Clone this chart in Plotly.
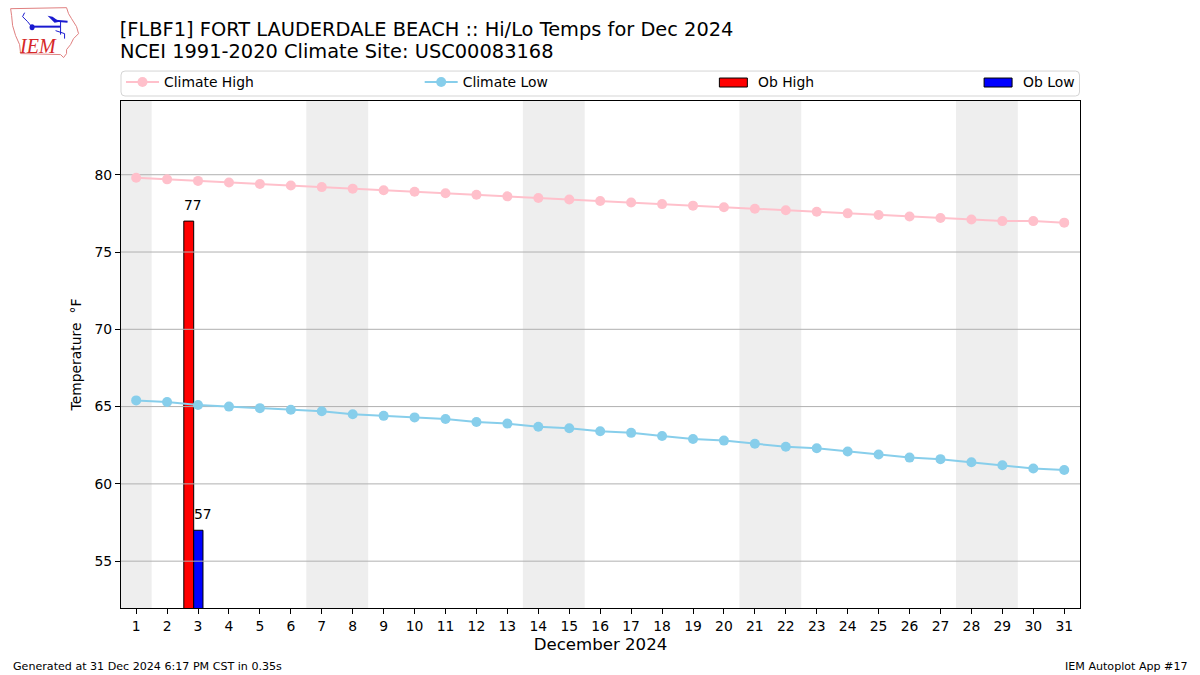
import plotly.graph_objects as go

days = list(range(1, 32))
climate_high = [79.8,79.7,79.6,79.5,79.4,79.3,79.2,79.1,79.0,78.9,78.8,78.7,78.6,78.5,78.4,78.3,78.2,78.1,78.0,77.9,77.8,77.7,77.6,77.5,77.4,77.3,77.2,77.1,77.0,77.0,76.9]
climate_low = [65.4,65.3,65.1,65.0,64.9,64.8,64.7,64.5,64.4,64.3,64.2,64.0,63.9,63.7,63.6,63.4,63.3,63.1,62.9,62.8,62.6,62.4,62.3,62.1,61.9,61.7,61.6,61.4,61.2,61.0,60.9]
ob_days = [3]
ob_high = [77]
ob_low = [57]
y_ticks = [55, 60, 65, 70, 75, 80]
weekend_bands = [(0.5, 1.5), (6.5, 8.5), (13.5, 15.5), (20.5, 22.5), (27.5, 29.5)]
title_line1 = "[FLBF1] FORT LAUDERDALE BEACH :: Hi/Lo Temps for Dec 2024"
title_line2 = "NCEI 1991-2020 Climate Site: USC00083168"

W, H = 1200, 675
FONT = "DejaVu Sans"
L, R, T, B = 120.5, 1080.5, 100.5, 608.5
X_RANGE = [0.51, 31.51]
Y_RANGE = [51.97, 84.77]

def px(x):
    return (x - L) / (R - L)

def py(y):
    return (B - y) / (B - T)

def ppath(points, close=False):
    s = "M" + " L".join(f"{px(x):.5f},{py(y):.5f}" for x, y in points)
    return s + (" Z" if close else "")

def note(x, y, text, anchor="left", size=13.9, family=FONT, color="black", **kw):
    return dict(x=px(x), y=py(y), xref="paper", yref="paper", text=text, showarrow=False, xanchor=anchor,
                yanchor="middle", font=dict(family=family, size=size, color=color, **kw))

fig = go.Figure()

fig.add_trace(go.Bar(x=ob_days, y=ob_high, offset=-0.46, width=0.32, showlegend=False,
                     marker=dict(color="red", line=dict(color="black", width=1)),
                     textposition="none", name="Ob High"))
fig.add_trace(go.Bar(x=ob_days, y=ob_low, offset=-0.14, width=0.3, showlegend=False,
                     marker=dict(color="blue", line=dict(color="black", width=1)),
                     textposition="none", name="Ob Low"))

# Grid lines sit over the bars but under the climate lines
for v in y_ticks:
    fig.add_trace(go.Scatter(x=X_RANGE, y=[v, v], mode="lines", hoverinfo="skip", showlegend=False,
                             line=dict(color="#b0b0b0", width=1)))

fig.add_trace(go.Scatter(x=days, y=climate_high, mode="lines+markers", name="Climate High", legend="legend",
                         line=dict(color="pink", width=2), marker=dict(color="pink", size=10)))
fig.add_trace(go.Scatter(x=days, y=climate_low, mode="lines+markers", name="Climate Low", legend="legend2",
                         line=dict(color="skyblue", width=2), marker=dict(color="skyblue", size=10)))

shapes = []
for a, b in weekend_bands:
    shapes.append(dict(type="rect", xref="x", yref="paper", x0=a, x1=b, y0=0, y1=1, layer="below",
                       fillcolor="#eeeeee", line=dict(width=0)))

# Legend frame and bar swatches
r = 4
lx0, lx1, ly0, ly1 = 120.5, 1080, 70.5, 95.5
shapes.append(dict(type="path", xref="paper", yref="paper",
                   path=(f"M{px(lx0+r):.5f},{py(ly0):.5f} L{px(lx1-r):.5f},{py(ly0):.5f} "
                         f"Q{px(lx1):.5f},{py(ly0):.5f} {px(lx1):.5f},{py(ly0+r):.5f} "
                         f"L{px(lx1):.5f},{py(ly1-r):.5f} Q{px(lx1):.5f},{py(ly1):.5f} {px(lx1-r):.5f},{py(ly1):.5f} "
                         f"L{px(lx0+r):.5f},{py(ly1):.5f} Q{px(lx0):.5f},{py(ly1):.5f} {px(lx0):.5f},{py(ly1-r):.5f} "
                         f"L{px(lx0):.5f},{py(ly0+r):.5f} Q{px(lx0):.5f},{py(ly0):.5f} {px(lx0+r):.5f},{py(ly0):.5f} Z"),
                   line=dict(color="#d5d5d5", width=1), fillcolor="white", layer="below"))
for x0, col in ((719.5, "red"), (984.5, "blue")):
    shapes.append(dict(type="rect", xref="paper", yref="paper", x0=px(x0), x1=px(x0 + 28), y0=py(86.5), y1=py(77.5),
                       fillcolor=col, line=dict(color="black", width=1)))

# IEM logo
shapes.append(dict(type="path", xref="paper", yref="paper", line=dict(color="#e08080", width=1), path=ppath([
    (10, 8), (66, 7), (68, 13), (71, 18), (76, 26), (78, 33), (73, 38), (70, 44), (66, 49), (66, 53), (63, 57),
    (60, 54), (20, 53), (19, 44), (15, 35), (12, 25), (11, 15)], True)))
for pts, w in (([(32, 26), (60, 26)], 2), ([(24, 12), (22, 16), (27, 21), (31, 26)], 1),
               ([(55, 20), (67, 21)], 2), ([(60, 21), (60, 34)], 1), ([(55, 30), (64, 33), (64, 38)], 1)):
    shapes.append(dict(type="path", xref="paper", yref="paper", line=dict(color="#1a1ad0", width=w), path=ppath(pts)))
shapes.append(dict(type="path", xref="paper", yref="paper", line=dict(width=0), fillcolor="#1a1ad0",
                   path=ppath([(47, 15), (52, 16), (59, 21), (54, 22)], True)))
shapes.append(dict(type="circle", xref="paper", yref="paper", x0=px(29), x1=px(34), y0=py(29.5), y1=py(23.5),
                   fillcolor="#1a1ad0", line=dict(width=0)))

annotations = [
    dict(x=3, y=77, xref="x", yref="y", text="77", showarrow=False, yanchor="bottom", yshift=6, xshift=-5,
         font=dict(family=FONT, size=13.9, color="black")),
    dict(x=3, y=57, xref="x", yref="y", text="57", showarrow=False, yanchor="bottom", yshift=6, xshift=5,
         font=dict(family=FONT, size=13.9, color="black")),
    note(756.5, 81.5, "Ob High"),
    note(1021.5, 81.5, "Ob Low"),
    note(117.5, 50.5, title_line2, size=19.4),
    note(10, 667, "Generated at 31 Dec 2024 6:17 PM CST in 0.35s", size=11.1),
    note(1190.5, 667, "IEM Autoplot App #17", anchor="right", size=11.1),
    note(37, 45, "IEM", anchor="center", size=20, family="Liberation Serif", color="#d62728", style="italic"),
]

def leg(x):
    return dict(x=px(x), y=py(82), xref="paper", yref="paper", xanchor="left", yanchor="middle",
                bgcolor="rgba(0,0,0,0)", borderwidth=0, itemwidth=33,
                font=dict(family=FONT, size=13.9, color="black"))

fig.update_layout(
    width=W, height=H, autosize=False, paper_bgcolor="white", plot_bgcolor="white",
    margin=dict(l=L, r=W - R, t=T, b=H - B, pad=0),
    barmode="overlay", hovermode=False,
    font=dict(family=FONT, size=13.9, color="black"),
    title=dict(text=title_line1, x=119.7 / W, xref="container", xanchor="left", y=1 - 29 / H, yanchor="middle",
               pad=dict(l=0, r=0, t=0, b=0), font=dict(family=FONT, size=19.4, color="black")),
    xaxis=dict(range=X_RANGE, tickmode="array", tickvals=days, ticktext=[str(d) for d in days],
               ticks="outside", ticklen=5, tickwidth=1, tickcolor="black", showgrid=False, zeroline=False,
               showline=True, mirror=True, linecolor="black", linewidth=1, layer="above traces",
               tickfont=dict(family=FONT, size=13.9),
               title=dict(text="December 2024", font=dict(family=FONT, size=16.6), standoff=5)),
    yaxis=dict(range=Y_RANGE, tickmode="array", tickvals=y_ticks, ticks="outside", ticklen=5, tickwidth=1,
               tickcolor="black", showgrid=False, zeroline=False, showline=True, mirror=True, linecolor="black",
               linewidth=1, layer="above traces", tickfont=dict(family=FONT, size=13.9),
               title=dict(text="Temperature \u2004°F", font=dict(family=FONT, size=13.9), standoff=9)),
    legend=leg(120.5), legend2=leg(419.5),
    shapes=shapes, annotations=annotations,
)

fig.write_html("out.html", config=dict(displayModeBar=False), post_script="document.body.style.margin='0';")
